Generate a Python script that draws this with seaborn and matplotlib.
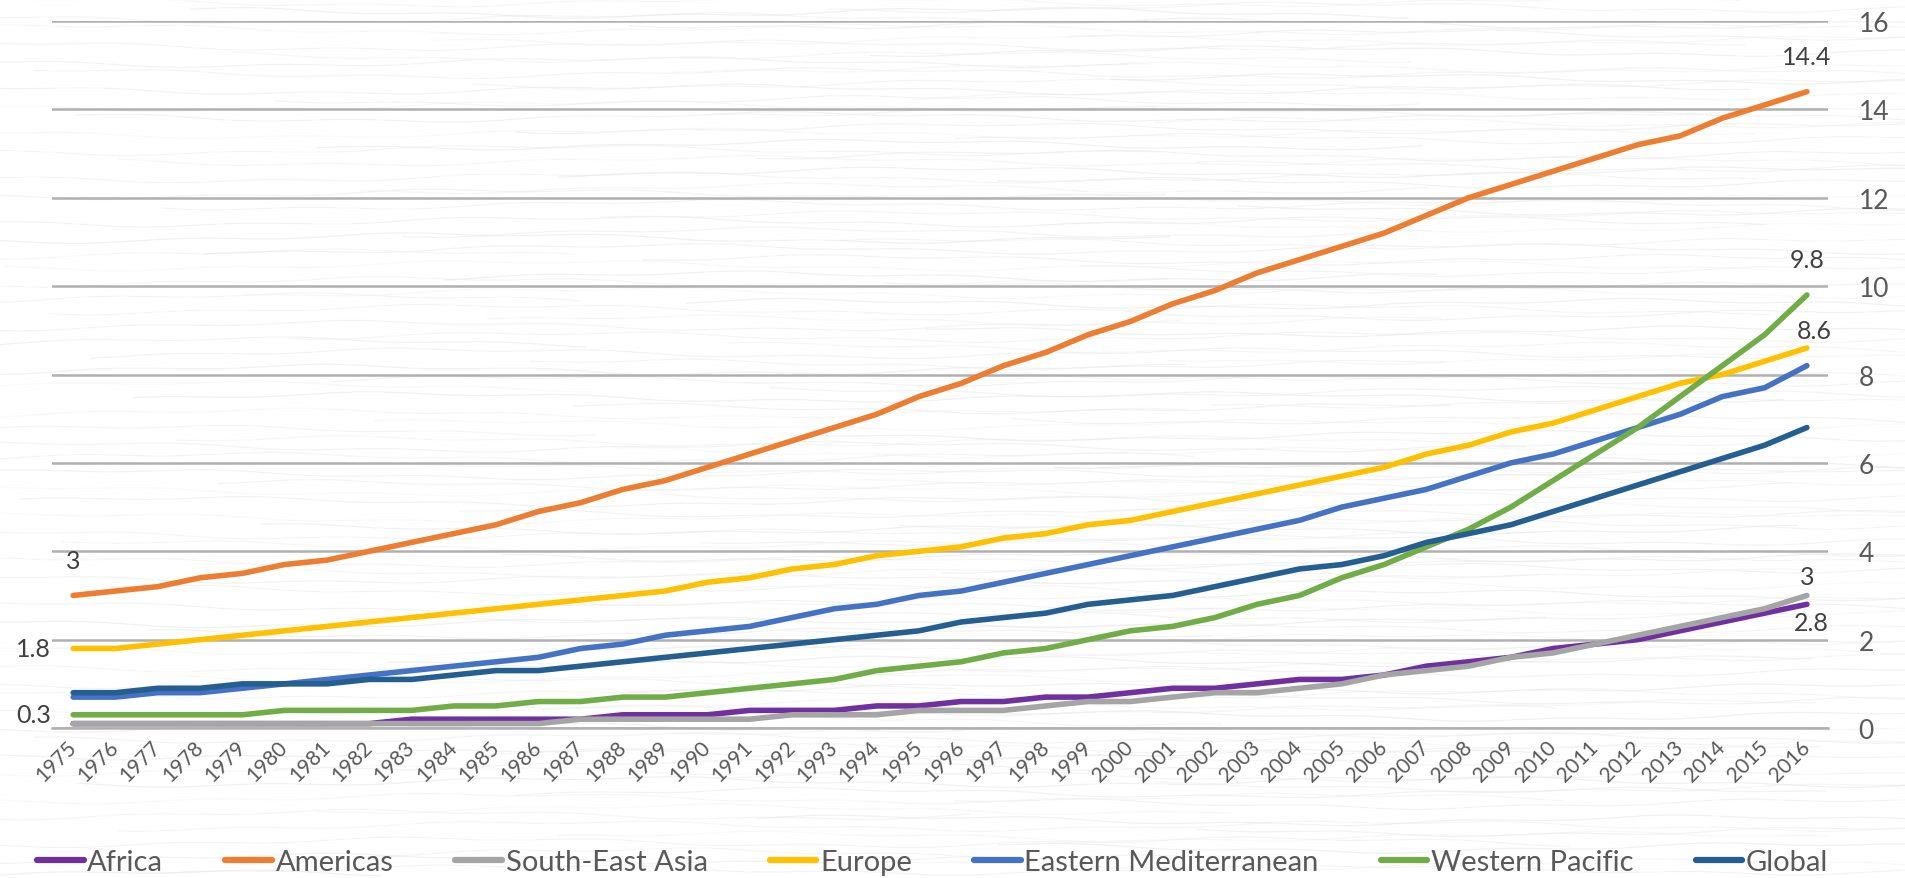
import matplotlib
matplotlib.use("Agg")
import numpy as np
import pandas as pd
import matplotlib.pyplot as plt
import seaborn as sns
from matplotlib.lines import Line2D

# ---- data -------------------------------------------------------------
years = list(range(1975, 2017))

africa = [0.1, 0.1, 0.1, 0.1, 0.1, 0.1, 0.1, 0.1, 0.2, 0.2,
          0.2, 0.2, 0.2, 0.3, 0.3, 0.3, 0.4, 0.4, 0.4, 0.5,
          0.5, 0.6, 0.6, 0.7, 0.7, 0.8, 0.9, 0.9, 1.0, 1.1,
          1.1, 1.2, 1.4, 1.5, 1.6, 1.8, 1.9, 2.0, 2.2, 2.4,
          2.6, 2.8]
americas = [3.0, 3.1, 3.2, 3.4, 3.5, 3.7, 3.8, 4.0, 4.2, 4.4,
            4.6, 4.9, 5.1, 5.4, 5.6, 5.9, 6.2, 6.5, 6.8, 7.1,
            7.5, 7.8, 8.2, 8.5, 8.9, 9.2, 9.6, 9.9, 10.3, 10.6,
            10.9, 11.2, 11.6, 12.0, 12.3, 12.6, 12.9, 13.2, 13.4, 13.8,
            14.1, 14.4]
south_east_asia = [0.1, 0.1, 0.1, 0.1, 0.1, 0.1, 0.1, 0.1, 0.1, 0.1,
                   0.1, 0.1, 0.2, 0.2, 0.2, 0.2, 0.2, 0.3, 0.3, 0.3,
                   0.4, 0.4, 0.4, 0.5, 0.6, 0.6, 0.7, 0.8, 0.8, 0.9,
                   1.0, 1.2, 1.3, 1.4, 1.6, 1.7, 1.9, 2.1, 2.3, 2.5,
                   2.7, 3.0]
europe = [1.8, 1.8, 1.9, 2.0, 2.1, 2.2, 2.3, 2.4, 2.5, 2.6,
          2.7, 2.8, 2.9, 3.0, 3.1, 3.3, 3.4, 3.6, 3.7, 3.9,
          4.0, 4.1, 4.3, 4.4, 4.6, 4.7, 4.9, 5.1, 5.3, 5.5,
          5.7, 5.9, 6.2, 6.4, 6.7, 6.9, 7.2, 7.5, 7.8, 8.0,
          8.3, 8.6]
eastern_mediterranean = [0.7, 0.7, 0.8, 0.8, 0.9, 1.0, 1.1, 1.2, 1.3, 1.4,
                         1.5, 1.6, 1.8, 1.9, 2.1, 2.2, 2.3, 2.5, 2.7, 2.8,
                         3.0, 3.1, 3.3, 3.5, 3.7, 3.9, 4.1, 4.3, 4.5, 4.7,
                         5.0, 5.2, 5.4, 5.7, 6.0, 6.2, 6.5, 6.8, 7.1, 7.5,
                         7.7, 8.2]
western_pacific = [0.3, 0.3, 0.3, 0.3, 0.3, 0.4, 0.4, 0.4, 0.4, 0.5,
                   0.5, 0.6, 0.6, 0.7, 0.7, 0.8, 0.9, 1.0, 1.1, 1.3,
                   1.4, 1.5, 1.7, 1.8, 2.0, 2.2, 2.3, 2.5, 2.8, 3.0,
                   3.4, 3.7, 4.1, 4.5, 5.0, 5.6, 6.2, 6.8, 7.5, 8.2,
                   8.9, 9.8]
global_ = [0.8, 0.8, 0.9, 0.9, 1.0, 1.0, 1.0, 1.1, 1.1, 1.2,
           1.3, 1.3, 1.4, 1.5, 1.6, 1.7, 1.8, 1.9, 2.0, 2.1,
           2.2, 2.4, 2.5, 2.6, 2.8, 2.9, 3.0, 3.2, 3.4, 3.6,
           3.7, 3.9, 4.2, 4.4, 4.6, 4.9, 5.2, 5.5, 5.8, 6.1,
           6.4, 6.8]

regions = ["Africa", "Americas", "South-East Asia", "Europe",
           "Eastern Mediterranean", "Western Pacific", "Global"]
series = [africa, americas, south_east_asia, europe,
          eastern_mediterranean, western_pacific, global_]
colors = ["#7030A0", "#ED7D31", "#A5A5A5", "#FFC000",
          "#4472C4", "#70AD47", "#255E91"]
y_ticks = [0, 2, 4, 6, 8, 10, 12, 14, 16]

# value labels: (region, year index, offset in pixels, alignment)
value_labels = [
    ("Americas", 0, (0, 35), "center"),
    ("Europe", 0, (-22, 0), "right"),
    ("Western Pacific", 0, (-22, 0), "right"),
    ("Americas", 41, (0, 35), "center"),
    ("Western Pacific", 41, (0, 35), "center"),
    ("Europe", 41, (7, 17), "center"),
    ("South-East Asia", 41, (0, 19), "center"),
    ("Africa", 41, (4, -18), "center"),
]

# ---- long-format table -----------------------------------------------
frames = []
for name, vals in zip(regions, series):
    frames.append(pd.DataFrame({"pos": np.arange(len(years)),
                                "Year": years,
                                "Region": name,
                                "Value": vals}))
df = pd.concat(frames, ignore_index=True)
palette = dict(zip(regions, colors))

# ---- style -------------------------------------------------------------
sns.set_theme(style="white")
plt.rcParams["font.family"] = ["Lato", "DejaVu Sans"]
text_color = "#595959"
grid_color = "#b0b0b0"

fig = plt.figure(figsize=(19.06, 8.79), dpi=100)

# paper-like backdrop: faint wavy streaks behind the chart
bg = fig.add_axes([0, 0, 1, 1], zorder=-1)
bg.set_xlim(0, 1)
bg.set_ylim(0, 1)
bg.axis("off")
n_streaks = 160
for k in range(n_streaks):
    phase = (k * 0.6180339) % 1.0
    start = ((k * 0.3719) % 1.0) * 0.9 - 0.25
    length = 0.45 + ((k * 0.7531) % 1.0) * 0.8
    xs = np.linspace(start, start + length, 300)
    base = (k + 0.5) / n_streaks
    ys = (base + 0.0045 * np.sin(2 * np.pi * (2.3 * xs + phase))
          + 0.0018 * np.sin(2 * np.pi * (9.0 * xs + 2 * phase)))
    shade = 0.90 + 0.05 * ((k * 0.4142) % 1.0)
    bg.plot(xs, ys, color=(shade, shade, shade), lw=0.9, alpha=0.55,
            solid_capstyle="round")

ax = fig.add_axes([0.0273, 0.1706, 0.9318, 0.8044])

sns.lineplot(data=df, x="pos", y="Value", hue="Region", hue_order=regions,
             palette=palette, linewidth=4.0, legend=False, ax=ax)
for line in ax.lines:
    line.set_solid_capstyle("round")
    line.set_solid_joinstyle("round")

# ---- axes -------------------------------------------------------------
ax.set_xlim(-0.5, len(years) - 0.5)
ax.set_ylim(0, 16)
ax.set_xlabel("")
ax.set_ylabel("")

ax.yaxis.tick_right()
ax.set_yticks(y_ticks)
ax.set_yticklabels([str(t) for t in y_ticks])
ax.tick_params(axis="y", length=0, pad=22, labelsize=19, labelcolor=text_color)

ax.set_xticks(np.arange(len(years)))
ax.set_xticklabels([str(y) for y in years], rotation=45, ha="right",
                   va="center", rotation_mode="anchor")
ax.tick_params(axis="x", which="major", length=0, pad=11, labelsize=15,
               labelcolor=text_color)
ax.set_xticks(np.arange(-0.5, len(years)), minor=True)
ax.tick_params(axis="x", which="minor", length=7, width=1.6,
               color=grid_color, direction="out")

ax.grid(axis="y", color=grid_color, linewidth=1.8)
ax.grid(axis="x", visible=False)
ax.set_axisbelow(True)
for side in ["top", "left", "right"]:
    ax.spines[side].set_visible(False)
ax.spines["bottom"].set_color(grid_color)
ax.spines["bottom"].set_linewidth(1.8)
ax.set_facecolor("none")

# ---- value labels -------------------------------------------------------
lookup = dict(zip(regions, series))
for name, idx, off, ha in value_labels:
    v = lookup[name][idx]
    ax.annotate(f"{v:g}", xy=(idx, v), xytext=off, textcoords="offset pixels",
                ha=ha, va="center", fontsize=18, color="#404040")

# ---- legend: one row spread across the chart width ----------------------
handles = [Line2D([0], [0], color=c, lw=4.5, solid_capstyle="round")
           for c in colors]
leg = fig.legend(handles, regions, loc="center",
                 bbox_to_anchor=(0.0194, 0.0, 0.9397, 0.036), mode="expand",
                 ncol=len(regions), frameon=False, fontsize=21,
                 handlelength=1.6, handletextpad=0.12, columnspacing=1.0,
                 borderaxespad=0, borderpad=0)
for t in leg.get_texts():
    t.set_color(text_color)

fig.savefig("out.png", dpi=100, facecolor="white")
